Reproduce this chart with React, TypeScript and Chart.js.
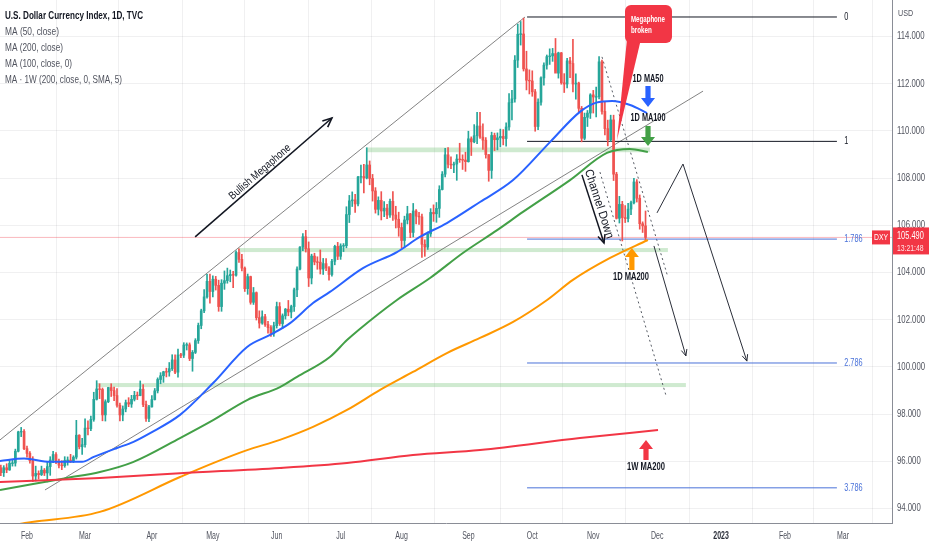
import React, { useEffect, useRef } from "react";
import { Chart, registerables } from "chart.js";
Chart.register(...registerables);

// ---------- DATA ----------
// bar index = weekday count from 2022-01-03 (index 0). First bar: 2022-01-19 (index 12)
const FIRST_INDEX = 12;
// [open, high, low, close]
const jan = [
  [95.73, 95.84, 95.40, 95.52], [95.52, 95.82, 95.36, 95.73], [95.73, 95.90, 95.52, 95.64],
  [95.64, 96.08, 95.62, 95.92], [95.92, 96.07, 95.80, 95.93], [95.93, 96.52, 95.80, 96.43],
  [96.43, 97.28, 96.40, 97.25], [97.25, 97.44, 97.05, 97.27], [97.27, 97.35, 96.50, 96.54],
];
const feb = [
  [96.54, 96.65, 96.18, 96.34], [96.34, 96.42, 95.92, 96.03], [96.03, 96.20, 95.14, 95.38],
  [95.38, 95.80, 95.17, 95.49], [95.49, 95.60, 95.25, 95.44], [95.44, 95.80, 95.40, 95.63],
  [95.63, 95.70, 95.40, 95.51], [95.51, 96.00, 95.13, 95.78], [95.78, 96.20, 95.41, 96.06],
  [96.06, 96.43, 95.95, 96.29], [96.29, 96.37, 95.90, 95.99], [95.99, 96.10, 95.72, 95.84],
  [95.84, 96.03, 95.65, 95.82], [95.82, 96.20, 95.75, 96.04], [96.04, 96.19, 95.84, 96.05],
  [96.05, 96.30, 95.95, 96.03], [96.03, 96.24, 95.95, 96.18], [96.18, 97.74, 96.10, 97.11],
  [97.11, 97.13, 96.53, 96.62], [96.62, 96.98, 96.30, 96.71],
];
const mar = [
  [96.71, 97.80, 96.60, 97.41], [97.41, 97.72, 97.12, 97.39], [97.39, 97.92, 97.30, 97.78],
  [97.78, 98.93, 97.70, 98.63], [98.63, 99.42, 98.60, 99.07], [99.07, 99.29, 98.66, 99.05],
  [99.05, 99.11, 97.72, 97.97], [97.97, 98.61, 97.71, 98.53], [98.53, 99.14, 98.49, 99.13],
  [99.13, 99.29, 98.75, 99.00], [99.00, 99.15, 98.57, 98.79], [98.79, 99.09, 98.30, 98.38],
  [98.38, 98.47, 97.71, 97.97], [97.97, 98.35, 97.72, 98.22], [98.22, 98.60, 98.10, 98.49],
  [98.49, 98.70, 98.32, 98.43], [98.43, 98.80, 98.29, 98.63], [98.63, 98.97, 98.56, 98.80],
  [98.80, 98.94, 98.62, 98.79], [98.79, 99.41, 98.78, 99.06], [99.06, 99.26, 98.32, 98.41],
  [98.41, 98.56, 97.69, 97.82], [97.82, 98.38, 97.68, 98.31],
];
const apr = [
  [98.31, 98.79, 98.30, 98.62], [98.62, 99.09, 98.60, 98.99], [98.99, 99.54, 98.90, 99.47],
  [99.47, 99.76, 99.29, 99.63], [99.63, 99.82, 99.35, 99.80], [99.80, 99.95, 99.58, 99.79],
  [99.79, 100.19, 99.61, 99.93], [99.93, 100.52, 99.85, 100.30], [100.30, 100.52, 99.72, 99.78],
  [99.78, 100.76, 99.57, 100.51], [100.51, 100.58, 100.40, 100.50], [100.50, 101.03, 100.40, 100.93],
  [100.93, 101.02, 100.72, 100.94], [100.94, 101.02, 100.27, 100.36], [100.36, 100.70, 99.82, 100.62],
  [100.62, 101.20, 100.57, 101.12], [101.12, 101.86, 101.00, 101.76], [101.76, 102.45, 101.62, 102.38],
  [102.38, 103.28, 102.30, 102.97], [102.97, 103.93, 102.92, 103.63], [103.63, 103.94, 102.70, 103.20],
];
const may = [
  [103.20, 103.86, 102.97, 103.72], [103.72, 103.84, 103.26, 103.46], [103.46, 103.68, 102.36, 102.56],
  [102.56, 103.70, 102.36, 103.55], [103.55, 104.07, 103.29, 103.66], [103.66, 104.19, 103.55, 103.87],
  [103.87, 104.11, 103.61, 103.92], [103.92, 104.05, 103.36, 103.89], [103.89, 104.92, 103.85, 104.85],
  [104.85, 105.01, 104.43, 104.56], [104.56, 104.77, 104.07, 104.19], [104.19, 104.24, 103.20, 103.32],
  [103.32, 103.94, 103.08, 103.83], [103.83, 103.85, 102.66, 102.74], [102.74, 103.37, 102.65, 103.15],
  [103.15, 103.18, 101.99, 102.09], [102.09, 102.38, 101.65, 101.86], [101.86, 102.38, 101.81, 102.13],
  [102.13, 102.23, 101.72, 101.80], [101.80, 101.93, 101.43, 101.67], [101.67, 101.76, 101.30, 101.42],
  [101.42, 101.90, 101.30, 101.75],
];
const jun = [
  [101.75, 102.75, 101.65, 102.56], [102.56, 102.73, 101.76, 101.84], [101.84, 102.25, 101.64, 102.17],
  [102.17, 102.48, 102.03, 102.45], [102.45, 102.82, 102.17, 102.33], [102.33, 102.62, 102.08, 102.56],
  [102.56, 103.34, 102.35, 103.27], [103.27, 104.24, 102.98, 104.15], [104.15, 105.10, 104.11, 105.08],
  [105.08, 105.65, 104.93, 105.52], [105.52, 105.79, 104.87, 105.01], [105.01, 105.30, 103.41, 103.77],
  [103.77, 104.78, 103.52, 104.70], [104.70, 104.82, 104.33, 104.45], [104.45, 104.67, 104.14, 104.44],
  [104.44, 104.96, 103.94, 104.15], [104.15, 104.60, 103.92, 104.38], [104.38, 104.59, 104.08, 104.20],
  [104.20, 104.26, 103.68, 103.92], [103.92, 104.56, 103.85, 104.48], [104.48, 105.16, 104.33, 105.11],
  [105.11, 105.28, 104.55, 104.69],
];
const jul = [
  [104.69, 105.22, 104.56, 105.13], [105.13, 105.23, 104.89, 105.14], [105.14, 106.79, 105.05, 106.46],
  [106.46, 107.27, 106.12, 107.04], [107.04, 107.42, 106.80, 107.08], [107.08, 107.32, 106.55, 106.91],
  [106.91, 108.08, 106.82, 108.05], [108.05, 108.56, 107.80, 108.07], [108.07, 108.59, 107.38, 108.01],
  [108.01, 109.29, 107.97, 108.56], [108.56, 108.73, 107.72, 107.99], [107.99, 108.16, 107.03, 107.46],
  [107.46, 107.60, 106.52, 106.68], [106.68, 107.21, 106.44, 107.06], [107.06, 107.43, 106.23, 106.61],
  [106.61, 107.01, 106.37, 106.73], [106.73, 106.89, 106.29, 106.44], [106.44, 107.12, 106.34, 107.02],
  [107.02, 107.43, 106.21, 106.44], [106.44, 106.81, 105.89, 106.26], [106.26, 106.56, 105.54, 105.91],
];
const aug = [
  [105.91, 106.10, 105.04, 105.36], [105.36, 106.39, 105.08, 106.23], [106.23, 106.81, 106.06, 106.49],
  [106.49, 106.51, 105.48, 105.70], [105.70, 106.93, 105.51, 106.61], [106.61, 106.67, 106.06, 106.39],
  [106.39, 106.55, 106.04, 106.36], [106.36, 106.48, 104.64, 105.20], [105.20, 105.39, 104.69, 105.08],
  [105.08, 105.72, 104.98, 105.64], [105.64, 106.71, 105.53, 106.55], [106.55, 106.87, 106.17, 106.49],
  [106.49, 106.97, 106.13, 106.72], [106.72, 107.68, 106.34, 107.52], [107.52, 108.28, 107.50, 108.17],
  [108.17, 109.27, 108.05, 108.99], [108.99, 109.30, 108.43, 108.59], [108.59, 108.90, 108.40, 108.56],
  [108.56, 108.68, 108.23, 108.60], [108.60, 109.00, 107.91, 108.81], [108.81, 109.48, 108.67, 108.79],
  [108.79, 108.99, 108.37, 108.77], [108.77, 109.10, 108.29, 108.70],
];
const sep = [
  [108.70, 109.99, 108.68, 109.67], [109.67, 109.75, 108.96, 109.54], [109.54, 110.27, 109.50, 109.80],
  [109.80, 110.79, 109.46, 110.21], [110.21, 110.79, 109.68, 109.74], [109.74, 110.30, 109.22, 109.61],
  [109.61, 109.72, 108.85, 109.00], [109.00, 109.00, 107.87, 108.33], [108.33, 109.95, 107.99, 109.81],
  [109.81, 109.91, 109.17, 109.63], [109.63, 109.92, 109.20, 109.71], [109.71, 110.08, 109.33, 109.77],
  [109.77, 110.06, 109.41, 109.68], [109.68, 110.35, 109.36, 110.17], [110.17, 111.59, 110.03, 111.20],
  [111.20, 111.72, 110.47, 111.36], [111.36, 113.19, 111.22, 113.00], [113.00, 114.53, 112.69, 114.10],
  [114.10, 114.64, 113.64, 114.11], [114.11, 114.78, 112.54, 112.63], [112.63, 113.38, 111.74, 112.15],
  [112.15, 112.59, 111.57, 112.12],
];
const oct = [
  [112.12, 112.55, 111.47, 111.66], [111.66, 111.76, 109.99, 110.19], [110.19, 111.36, 110.06, 111.22],
  [111.22, 112.29, 111.09, 112.25], [112.25, 112.89, 111.94, 112.79], [112.79, 113.22, 112.62, 113.15],
  [113.15, 113.48, 112.82, 113.18], [113.18, 113.50, 112.95, 113.28], [113.28, 113.92, 112.54, 112.45],
  [112.45, 113.34, 112.24, 113.31], [113.31, 113.33, 111.98, 112.04], [112.04, 112.43, 111.63, 111.99],
  [111.99, 113.08, 111.82, 112.97], [112.97, 113.12, 112.26, 112.86], [112.86, 113.88, 111.65, 111.99],
  [111.99, 112.42, 111.35, 112.03], [112.03, 112.07, 110.81, 110.96], [110.96, 111.04, 109.54, 109.69],
  [109.69, 110.76, 109.63, 110.58], [110.58, 110.87, 110.19, 110.76], [110.76, 111.58, 110.53, 111.53],
];
const nov = [
  [111.53, 111.72, 110.76, 111.44], [111.44, 111.86, 110.60, 111.45], [111.45, 113.15, 111.36, 112.93],
  [112.93, 113.00, 110.71, 110.83], [110.83, 111.24, 109.83, 110.10], [110.10, 110.46, 109.37, 109.63],
  [109.63, 110.67, 109.56, 110.47], [110.47, 110.67, 107.90, 108.17], [108.17, 108.25, 106.27, 106.30],
  [106.30, 107.23, 106.10, 106.89], [106.89, 107.02, 105.34, 106.33], [106.33, 106.84, 106.12, 106.29],
  [106.29, 106.94, 106.15, 106.69], [106.69, 107.03, 106.45, 106.96], [106.96, 107.99, 106.91, 107.84],
  [107.84, 107.94, 106.99, 107.15], [107.15, 107.29, 105.84, 106.07], [106.07, 106.15, 105.70, 105.98],
  [105.98, 106.61, 105.33, 105.49],
];
const LAST_PRICE = 105.49;

// Moving averages (bar index, value)
const ma50X = [11.7, 20, 29, 40, 44, 52, 57.5, 63.4, 73.7, 85.1, 96.8, 104.7, 111.6, 119.5, 125.3, 136.7, 148.4, 156.3, 165.6, 177, 188.4, 201.1, 211.4, 217, 222.5, 228.7, 234.5];
const ma50Y = [96.02, 96.12, 95.98, 95.98, 96.19, 96.57, 96.82, 97.2, 97.97, 99.32, 100.85, 101.36, 101.86, 102.71, 103.18, 104.19, 104.87, 105.51, 106.10, 106.99, 107.92, 109.53, 110.81, 111.2, 111.27, 111.1, 110.76];
const ma100X = [11.7, 23.1, 34.8, 46.1, 57.5, 73.7, 85.1, 96.8, 108.1, 114.0, 125.3, 131.2, 135.2, 148.4, 159.8, 171.1, 182.9, 191.8, 208, 220.7, 228.6, 234.8];
const ma100Y = [94.79, 95.04, 95.30, 95.55, 95.97, 96.99, 97.75, 98.60, 99.15, 99.58, 100.42, 101.14, 101.57, 102.84, 103.77, 104.83, 105.8, 106.57, 107.92, 109.07, 109.24, 109.11];
const ma200X = [11.7, 20.3, 46.1, 73.7, 85.1, 96.8, 108.1, 119.5, 131.2, 142.6, 153.9, 165.6, 177.0, 188.4, 200.1, 209.0, 221.8, 234.8];
const ma200Y = [93.18, 93.39, 93.86, 95.34, 95.93, 96.48, 96.91, 97.46, 98.18, 99.03, 99.79, 100.59, 101.23, 101.91, 102.84, 103.69, 104.62, 105.38];
const wma200X = [11.7, 46.1, 73.7, 108.1, 131.2, 153.9, 177.0, 211.4, 238.3];
const wma200Y = [95.13, 95.30, 95.50, 95.72, 95.93, 96.27, 96.48, 96.99, 97.33];

// Fibonacci extension levels
const fibLabels = ["0", "1", "1.786", "2.786", "3.786"];
const fibPrices = [114.83, 109.56, 105.42, 100.17, 94.88];
const fibStart = 193.2;
const fibEnd = 299.9;

// Support / resistance zones: [startIdx, endIdx, low, high]
const zoneStart = [138, 93.7, 45];
const zoneEnd = [235.5, 241.7, 247.9];
const zoneLow = [109.10, 104.87, 99.15];
const zoneHigh = [109.30, 105.04, 99.32];

// Axis ticks
const monthTickIndex = [21, 41, 64, 85, 107, 129, 150, 173, 195, 216, 238, 260, 282, 302];
const monthTickLabels = ["Feb", "Mar", "Apr", "May", "Jun", "Jul", "Aug", "Sep", "Oct", "Nov", "Dec", "2023", "Feb", "Mar"];
const priceTicks = [94, 96, 98, 100, 102, 104, 106, 108, 110, 112, 114];

const legendLines = [
  "U.S. Dollar Currency Index, 1D, TVC",
  "MA (50, close)",
  "MA (200, close)",
  "MA (100, close, 0)",
  "MA · 1W (200, close, 0, SMA, 5)",
];

// Drawing anchors (bar index, price)
const megaUpper = [[11.7, 96.91], [192.5, 114.83]];
const megaLower = [[27.2, 94.79], [253.8, 111.69]];
const chanUpper = [[219.0, 113.14], [241.7, 103.81]];
const chanLower = [[218.3, 108.26], [241.0, 98.81]];
const bullArrow = [[78.9, 105.51], [126.0, 110.55]];
const chanArrow = [[212.1, 108.14], [219.7, 105.25]];
const zigzag = [[237.95, 106.53], [246.9, 108.60], [268.9, 100.25]];
const dropArrow = [[236.9, 105.13], [247.9, 100.47]];

// ---------- CHART ----------
const XMIN = 11.71;
const XMAX = 318.87;
const YMIN = 93.39;
const YMAX = 115.55;
const UP = "#26a69a";
const DOWN = "#ef5350";
const FONT = '"Liberation Sans", Arial, sans-serif';
const GRID = "rgba(42,46,57,0.07)";
const AXIS = "#8a8d96";

function txt(ctx: any, s: string, x: number, y: number, o: any) {
  ctx.save();
  ctx.font = `${o.weight || "normal"} ${o.size}px ${FONT}`;
  const m = ctx.measureText(s).width;
  const sx = o.width ? o.width / m : o.sx ?? 0.78;
  const w = m * sx;
  let x0 = x;
  if (o.align === "center") x0 = x - w / 2;
  else if (o.align === "right") x0 = x - w;
  ctx.translate(x0, y);
  ctx.scale(sx, 1);
  ctx.fillStyle = o.color;
  ctx.textAlign = "left";
  ctx.textBaseline = o.baseline || "middle";
  ctx.fillText(s, 0, 0);
  ctx.restore();
}

function rtxt(ctx: any, s: string, cx: number, cy: number, angle: number, size: number, width: number, color: string) {
  ctx.save();
  ctx.font = `normal ${size}px ${FONT}`;
  const m = ctx.measureText(s).width;
  ctx.translate(cx, cy);
  ctx.rotate(angle);
  ctx.scale(width / m, 1);
  ctx.fillStyle = color;
  ctx.textAlign = "center";
  ctx.textBaseline = "middle";
  ctx.fillText(s, 0, 0);
  ctx.restore();
}

function openHead(ctx: any, x1: number, y1: number, x2: number, y2: number, len: number) {
  const a = Math.atan2(y2 - y1, x2 - x1);
  ctx.beginPath();
  ctx.moveTo(x2 - len * Math.cos(a - 0.42), y2 - len * Math.sin(a - 0.42));
  ctx.lineTo(x2, y2);
  ctx.lineTo(x2 - len * Math.cos(a + 0.42), y2 - len * Math.sin(a + 0.42));
  ctx.stroke();
}

function fatArrow(ctx: any, x: number, yTail: number, yTip: number, color: string) {
  const dir = yTip > yTail ? 1 : -1;
  const head = 9, hw = 7, sw = 2.6;
  const yNeck = yTip - dir * head;
  ctx.save();
  ctx.fillStyle = color;
  ctx.beginPath();
  ctx.moveTo(x - sw, yTail);
  ctx.lineTo(x + sw, yTail);
  ctx.lineTo(x + sw, yNeck);
  ctx.lineTo(x + hw, yNeck);
  ctx.lineTo(x, yTip);
  ctx.lineTo(x - hw, yNeck);
  ctx.lineTo(x - sw, yNeck);
  ctx.closePath();
  ctx.fill();
  ctx.restore();
}

const overlay = {
  id: "overlay",
  beforeDatasetsDraw(chart: any) {
    const { ctx, chartArea: a, scales } = chart;
    const X = (v: number) => scales.x.getPixelForValue(v);
    const Y = (v: number) => scales.y.getPixelForValue(v);
    ctx.save();
    ctx.beginPath();
    ctx.rect(a.left, a.top, a.right - a.left, a.bottom - a.top);
    ctx.clip();
    ctx.fillStyle = "rgba(129,199,132,0.38)";
    for (let k = 0; k < zoneStart.length; k++) {
      const x0 = X(zoneStart[k]), x1 = X(zoneEnd[k]);
      const y0 = Y(zoneHigh[k]), y1 = Y(zoneLow[k]);
      ctx.fillRect(x0, y0, x1 - x0, y1 - y0);
    }
    ctx.restore();
  },
  afterDatasetsDraw(chart: any) {
    const { ctx, chartArea: a, scales } = chart;
    const X = (v: number) => scales.x.getPixelForValue(v);
    const Y = (v: number) => scales.y.getPixelForValue(v);
    ctx.save();
    ctx.beginPath();
    ctx.rect(a.left, a.top, a.right - a.left, a.bottom - a.top);
    ctx.clip();

    // Bullish megaphone arrow + text
    ctx.strokeStyle = "#131722";
    ctx.lineWidth = 1.6;
    const b1x = X(bullArrow[0][0]), b1y = Y(bullArrow[0][1]);
    const b2x = X(bullArrow[1][0]), b2y = Y(bullArrow[1][1]);
    ctx.beginPath(); ctx.moveTo(b1x, b1y); ctx.lineTo(b2x, b2y); ctx.stroke();
    openHead(ctx, b1x, b1y, b2x, b2y, 10);
    const ba = Math.atan2(b2y - b1y, b2x - b1x);
    rtxt(ctx, "Bullish Megaphone", X(101.24), Y(108.26), ba, 11, 78, "#131722");

    // Channel Down arrow + text
    const c1x = X(chanArrow[0][0]), c1y = Y(chanArrow[0][1]);
    const c2x = X(chanArrow[1][0]), c2y = Y(chanArrow[1][1]);
    ctx.lineWidth = 1.5;
    ctx.beginPath(); ctx.moveTo(c1x, c1y); ctx.lineTo(c2x, c2y); ctx.stroke();
    openHead(ctx, c1x, c1y, c2x, c2y, 9);
    const ca = Math.atan2(c2y - c1y, c2x - c1x);
    rtxt(ctx, "Channel Down", X(217.97), Y(106.91), ca, 12, 72, "#131722");

    // projection zigzag
    ctx.lineWidth = 1;
    ctx.strokeStyle = "#2a2e39";
    ctx.beginPath();
    ctx.moveTo(X(zigzag[0][0]), Y(zigzag[0][1]));
    ctx.lineTo(X(zigzag[1][0]), Y(zigzag[1][1]));
    ctx.lineTo(X(zigzag[2][0]), Y(zigzag[2][1]));
    ctx.stroke();
    openHead(ctx, X(zigzag[1][0]), Y(zigzag[1][1]), X(zigzag[2][0]), Y(zigzag[2][1]), 7);
    ctx.beginPath();
    ctx.moveTo(X(dropArrow[0][0]), Y(dropArrow[0][1]));
    ctx.lineTo(X(dropArrow[1][0]), Y(dropArrow[1][1]));
    ctx.stroke();
    openHead(ctx, X(dropArrow[0][0]), Y(dropArrow[0][1]), X(dropArrow[1][0]), Y(dropArrow[1][1]), 7);

    // Megaphone broken callout
    const bl = X(226.93), br = X(243.11), bt = Y(115.34), bb = Y(113.73);
    ctx.fillStyle = "#f23645";
    ctx.beginPath();
    ctx.moveTo(bl + 2, bb - 4);
    ctx.lineTo(bl + 16, bb - 4);
    ctx.lineTo(X(224.17), Y(109.62));
    ctx.closePath();
    ctx.fill();
    ctx.beginPath();
    ctx.roundRect(bl, bt, br - bl, bb - bt, 6);
    ctx.fill();
    txt(ctx, "Megaphone", bl + 6, bt + 14, { size: 9.5, weight: "bold", color: "#ffffff", width: 34 });
    txt(ctx, "broken", bl + 6, bt + 25, { size: 9.5, weight: "bold", color: "#ffffff", sx: 0.66 });

    // MA labels + fat arrows
    txt(ctx, "1D MA50", X(234.85), Y(112.2), { size: 10, weight: "bold", color: "#131722", align: "center", width: 31 });
    fatArrow(ctx, X(234.85), Y(111.91), Y(111.02), "#2962ff");
    txt(ctx, "1D MA100", X(234.85), Y(110.55), { size: 10, weight: "bold", color: "#131722", align: "center", width: 35 });
    fatArrow(ctx, X(234.85), Y(110.21), Y(109.36), "#43a047");
    fatArrow(ctx, X(229.3), Y(104.11), Y(105.04), "#ff9800");
    txt(ctx, "1D MA200", X(228.99), Y(103.81), { size: 10, weight: "bold", color: "#131722", align: "center", width: 36 });
    fatArrow(ctx, X(234.16), Y(96.06), Y(96.91), "#f23645");
    txt(ctx, "1W MA200", X(234.16), Y(95.76), { size: 10, weight: "bold", color: "#131722", align: "center", width: 38 });

    // Fib labels
    for (let k = 0; k < fibLabels.length; k++) {
      txt(ctx, fibLabels[k], X(302.4), Y(fibPrices[k]), { size: 10.5, color: k < 2 ? "#131722" : "#4a72d9", sx: 0.7 });
    }
    ctx.restore();
  },
  afterDraw(chart: any) {
    const { ctx, chartArea: a, scales } = chart;
    const X = (v: number) => scales.x.getPixelForValue(v);
    const Y = (v: number) => scales.y.getPixelForValue(v);
    // legend
    txt(ctx, legendLines[0], 5, 16, { size: 11, weight: "bold", color: "#131722", width: 138 });
    const lw = [54, 58, 67, 117];
    for (let k = 1; k < legendLines.length; k++) {
      txt(ctx, legendLines[k], 5, 16 + 16 * k, { size: 11, color: "#50535e", width: lw[k - 1] });
    }
    // y labels
    txt(ctx, "USD", a.right + 6, 13, { size: 9.5, color: "#50535e", sx: 0.75 });
    for (const v of priceTicks) {
      txt(ctx, v.toFixed(3), a.right + 5, Y(v), { size: 10.5, color: "#50535e", sx: 0.74 });
    }
    // x labels
    for (let k = 0; k < monthTickIndex.length; k++) {
      const bold = monthTickLabels[k] === "2023";
      txt(ctx, monthTickLabels[k], X(monthTickIndex[k]), a.bottom + 13, {
        size: 10, weight: bold ? "bold" : "normal", color: bold ? "#2a2e39" : "#50535e", align: "center", sx: 0.7,
      });
    }
    // price label
    const py = Y(LAST_PRICE);
    ctx.save();
    ctx.fillStyle = "#f23645";
    ctx.fillRect(a.right - 20, py - 7, 18, 14);
    ctx.fillRect(a.right + 1, py - 10, 36, 27);
    ctx.restore();
    txt(ctx, "DXY", a.right - 11, py, { size: 9.5, color: "#ffffff", align: "center", sx: 0.72 });
    txt(ctx, LAST_PRICE.toFixed(3), a.right + 5, py - 1, { size: 10, color: "#ffffff", sx: 0.74 });
    txt(ctx, "13:21:48", a.right + 5, py + 11, { size: 9.5, color: "#ffe3e5", sx: 0.72 });
  },
};

const candles = [...jan, ...feb, ...mar, ...apr, ...may, ...jun, ...jul, ...aug, ...sep, ...oct, ...nov];

function seg(pts: number[][]) {
  return pts.map((p) => ({ x: p[0], y: p[1] }));
}

export default function App() {
  const ref = useRef<HTMLCanvasElement>(null);
  useEffect(() => {
    document.body.style.margin = "0";
    document.body.style.background = "#ffffff";
    const colors = candles.map((c) => (c[3] >= c[0] ? UP : DOWN));
    const wicks = candles.map((c, k) => ({ x: FIRST_INDEX + k, y: [c[2], c[1]] }));
    const bodies = candles.map((c, k) => {
      const lo = Math.min(c[0], c[3]);
      const hi = Math.max(c[0], c[3]);
      const mid = (lo + hi) / 2;
      return { x: FIRST_INDEX + k, y: hi - lo < 0.03 ? [mid - 0.015, mid + 0.015] : [lo, hi] };
    });
    const thin = (data: any, color: string, dash: number[] = [], width = 1, order = 6) => ({
      type: "line", data, borderColor: color, borderWidth: width, borderDash: dash, pointRadius: 0, order, tension: 0,
    });
    const maLine = (xs: number[], ys: number[], color: string) => ({
      type: "line",
      data: xs.map((x, k) => ({ x, y: ys[k] })),
      borderColor: color, borderWidth: 2, pointRadius: 0, cubicInterpolationMode: "monotone", order: 1,
    });
    const fibSets = fibPrices.map((p, k) =>
      thin([{ x: fibStart, y: p }, { x: fibEnd, y: p }], k < 2 ? "#131722" : "#4a72d9", [], 1, 5)
    );
    const chart = new Chart(ref.current as HTMLCanvasElement, {
      type: "bar",
      data: {
        datasets: [
          maLine(wma200X, wma200Y, "#f23645"),
          maLine(ma200X, ma200Y, "#ff9800"),
          maLine(ma100X, ma100Y, "#43a047"),
          maLine(ma50X, ma50Y, "#2962ff"),
          { type: "bar", data: wicks, backgroundColor: colors, barThickness: 1, grouped: false, order: 4 },
          { type: "bar", data: bodies, backgroundColor: colors, barThickness: 2, grouped: false, order: 3 },
          thin(seg(megaUpper), "rgba(90,90,90,0.75)"),
          thin(seg(megaLower), "rgba(90,90,90,0.75)"),
          thin(seg(chanUpper), "#555a63", [2, 3]),
          thin(seg(chanLower), "#555a63", [2, 3]),
          thin([{ x: XMIN, y: LAST_PRICE }, { x: XMAX, y: LAST_PRICE }], "rgba(242,54,69,0.35)", [], 1, 8),
          ...fibSets,
        ] as any,
      },
      options: {
        responsive: false,
        animation: false,
        events: [],
        layout: { padding: 0 },
        plugins: { legend: { display: false }, tooltip: { enabled: false } },
        scales: {
          x: {
            type: "linear", min: XMIN, max: XMAX, offset: false,
            grid: { color: GRID, drawTicks: false },
            border: { display: true, color: AXIS },
            ticks: { display: false },
            afterBuildTicks: (s: any) => { s.ticks = monthTickIndex.map((v) => ({ value: v })); },
            afterFit: (s: any) => { s.height = 27; },
          },
          y: {
            type: "linear", position: "right", min: YMIN, max: YMAX,
            grid: { color: GRID, drawTicks: false },
            border: { display: true, color: AXIS },
            ticks: { display: false },
            afterBuildTicks: (s: any) => { s.ticks = priceTicks.map((v) => ({ value: v })); },
            afterFit: (s: any) => { s.width = 40; },
          },
        },
      } as any,
      plugins: [overlay],
    });
    return () => chart.destroy();
  }, []);
  return (
    <div style={{ width: 932, height: 550, background: "#fff" }}>
      <canvas ref={ref} width={932} height={550} style={{ display: "block", width: 932, height: 550 }} />
    </div>
  );
}
